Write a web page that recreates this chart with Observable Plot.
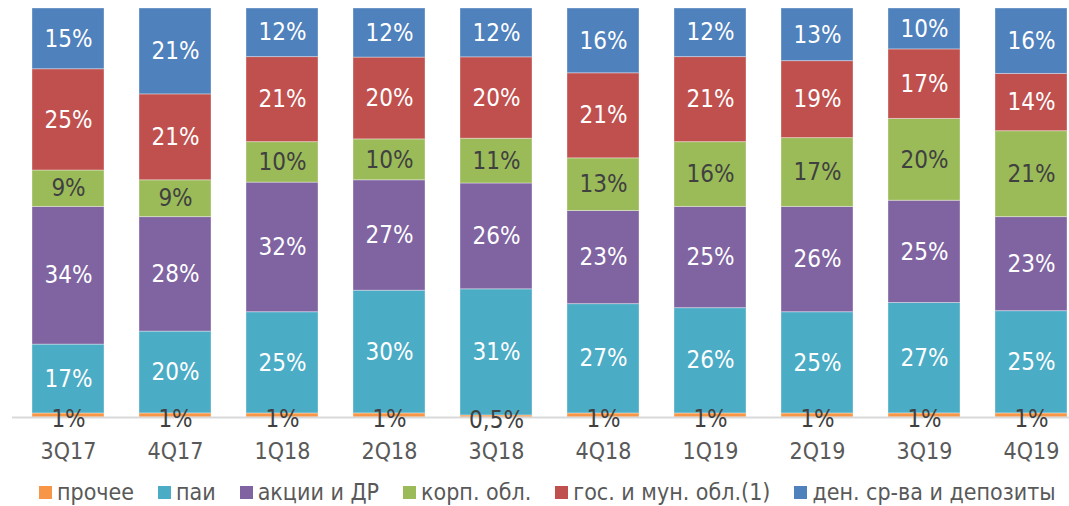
<!DOCTYPE html>
<html>
<head>
<meta charset="utf-8">
<script src="https://cdn.jsdelivr.net/npm/d3@7"></script>
<script src="https://cdn.jsdelivr.net/npm/@observablehq/plot@0.6"></script>
<style>
  html, body { margin: 0; padding: 0; background: #fff; }
  body { width: 1069px; height: 506px; overflow: hidden; font-family: 'DejaVu Sans Condensed', 'DejaVu Sans', sans-serif; font-stretch: condensed; }
  #chart svg { display: block; }
  .legend { display: flex; flex-wrap: nowrap; white-space: nowrap; align-items: center; height: 44px; padding-left: 39px; font-size: 23px; color: #595959; overflow: hidden; width: 1030px; }
  .legend .item { display: flex; align-items: center; margin-right: 24px; }
  .legend .sw { width: 13px; height: 13px; margin-right: 5px; flex: none; }
</style>
</head>
<body>
<div id="chart"></div>
<div class="legend" id="legend"></div>
<script>
const categories = ["3Q17","4Q17","1Q18","2Q18","3Q18","4Q18","1Q19","2Q19","3Q19","4Q19"];
const series = ["прочее","паи","акции и ДР","корп. обл.","гос. и мун. обл.(1)","ден. ср-ва и депозиты"];
const colors = ["#F79646","#4BACC6","#8064A2","#9BBB59","#C0504D","#4F81BD"];
const prochee = [1,1,1,1,0.5,1,1,1,1,1];
const pai     = [17,20,25,30,31,27,26,25,27,25];
const akcii   = [34,28,32,27,26,23,25,26,25,23];
const korp    = [9,9,10,10,11,13,16,17,20,21];
const gos     = [25,21,21,20,20,21,21,19,17,14];
const den     = [15,21,12,12,12,16,12,13,10,16];

const valuesBySeries = [prochee, pai, akcii, korp, gos, den];
const table = [];
series.forEach((s, si) => {
  categories.forEach((c, ci) => {
    const v = valuesBySeries[si][ci];
    table.push({cat: c, series: s, value: v, label: String(v).replace(".", ",") + "%"});
  });
});

const stackOpts = {x: "cat", y: "value", z: "series", order: series, offset: "normalize"};
const font = "'DejaVu Sans Condensed', 'DejaVu Sans', sans-serif";

const chart = Plot.plot({
  width: 1069,
  height: 470,
  marginTop: 8,
  marginBottom: 53,
  marginLeft: 12,
  marginRight: 0,
  x: {domain: categories, range: [-5.4, 1104], paddingInner: 0.33, paddingOuter: 0.33, axis: null, label: null},
  y: {axis: null, label: null},
  color: {domain: series, range: colors},
  style: {fontFamily: font, fontSize: "24px", fontStretch: "condensed", background: "#fff"},
  marks: [
    Plot.barY(table, Plot.stackY({...stackOpts, fill: "series", stroke: "white", strokeOpacity: 0.35, strokeWidth: 1})),
    Plot.ruleY([0], {stroke: "#d9d9d9", strokeWidth: 2}),
    Plot.axisX({domain: categories, label: null, tickSize: 0, tickPadding: 25, fontSize: 23, fill: "#595959", stroke: null}),
    Plot.text(table, Plot.stackY({...stackOpts, text: d => d.series === "прочее" ? d.label : "", fill: "#404040", dy: 4, fontSize: 24})),
    Plot.text(table, Plot.stackY({...stackOpts, text: d => d.series === "корп. обл." ? d.label : "", fill: "#404040", fontSize: 24})),
    Plot.text(table, Plot.stackY({...stackOpts, text: d => (d.series !== "прочее" && d.series !== "корп. обл.") ? d.label : "", fill: "white", fontSize: 24}))
  ]
});
document.getElementById("chart").appendChild(chart);

const legend = document.getElementById("legend");
series.forEach((s, i) => {
  const item = document.createElement("div");
  item.className = "item";
  const sw = document.createElement("span");
  sw.className = "sw";
  sw.style.background = colors[i];
  const t = document.createElement("span");
  t.textContent = s;
  item.appendChild(sw);
  item.appendChild(t);
  legend.appendChild(item);
});
</script>
</body>
</html>
